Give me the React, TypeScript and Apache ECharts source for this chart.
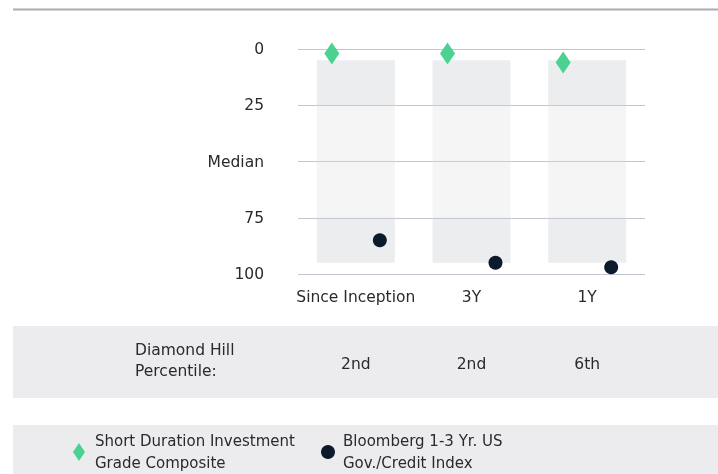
import React, { useEffect, useRef } from "react";
import * as echarts from "echarts";

const CATEGORIES = ["Since Inception", "3Y", "1Y"];
const COMPOSITE = [2, 2, 6];
const INDEX = [85, 95, 97];
const RANGE_LOW = [5, 5, 5];
const Q1 = [25, 25, 25];
const Q3 = [75, 75, 75];
const RANGE_HIGH = [95, 95, 95];
const PERCENTILES = ["2nd", "2nd", "6th"];
const Y_TICKS = [0, 25, 50, 75, 100];
const Y_TICK_LABELS = ["0", "25", "Median", "75", "100"];
const COMPOSITE_NAME = "Short Duration Investment\nGrade Composite";
const INDEX_NAME = "Bloomberg 1-3 Yr. US\nGov./Credit Index";
const TABLE_LABEL = "Diamond Hill\nPercentile:";

const FONT = "DejaVu Sans";
const FS = 15.5;
const FS_LEGEND = 15;
const TEXT = "#2a2a2a";
const GREEN = "#4bd291";
const NAVY = "#0c1b2b";
const PANEL = "#ececee";

export default function App() {
  const ref = useRef<HTMLDivElement>(null);
  useEffect(() => {
    if (!ref.current) return;
    const chart = echarts.init(ref.current, null, { renderer: "svg" });
    const diff = (a: number[], b: number[]) => a.map((v, i) => v - b[i]);
    const barCommon = {
      type: "bar" as const,
      stack: "range",
      barWidth: 78,
      silent: true,
      z: 1,
    };
    const option: any = {
      animation: false,
      textStyle: { fontFamily: FONT },
      grid: { left: 298, right: 73, top: 49, bottom: 200 },
      xAxis: {
        type: "category",
        data: CATEGORIES,
        axisLine: { show: false },
        axisTick: { show: false },
        axisLabel: { color: TEXT, fontSize: FS, fontFamily: FONT, margin: 15, interval: 0 },
      },
      yAxis: {
        type: "value",
        inverse: true,
        min: 0,
        max: 100,
        interval: 25,
        axisLine: { show: false },
        axisTick: { show: false },
        axisLabel: {
          color: TEXT,
          fontSize: FS,
          fontFamily: FONT,
          margin: 34,
          formatter: (v: number) => {
            const i = Y_TICKS.indexOf(v);
            return i >= 0 ? Y_TICK_LABELS[i] : "";
          },
        },
        splitLine: { lineStyle: { color: "#c2c6d0", width: 1 } },
      },
      legend: [
        {
          left: 73,
          top: 430,
          padding: 0,
          data: [{ name: COMPOSITE_NAME, icon: "path://M6,0 L12,9 L6,18 L0,9 Z" }],
          itemWidth: 22,
          itemHeight: 18,
          selectedMode: false,
          textStyle: { color: TEXT, fontSize: FS_LEGEND, fontFamily: FONT, lineHeight: 22 },
        },
        {
          left: 321,
          top: 430,
          padding: 0,
          data: [{ name: INDEX_NAME, icon: "circle" }],
          itemWidth: 20,
          itemHeight: 14,
          selectedMode: false,
          textStyle: { color: TEXT, fontSize: FS_LEGEND, fontFamily: FONT, lineHeight: 22 },
        },
      ],
      series: [
        { ...barCommon, name: "base", data: RANGE_LOW, itemStyle: { color: "rgba(0,0,0,0)" } },
        { ...barCommon, name: "upper tail", data: diff(Q1, RANGE_LOW), itemStyle: { color: "rgba(200,204,212,0.36)" } },
        { ...barCommon, name: "middle", data: diff(Q3, Q1), itemStyle: { color: "rgba(220,220,220,0.28)" } },
        { ...barCommon, name: "lower tail", data: diff(RANGE_HIGH, Q3), itemStyle: { color: "rgba(200,204,212,0.36)" } },
        {
          type: "scatter",
          name: COMPOSITE_NAME,
          data: COMPOSITE,
          symbol: "diamond",
          symbolSize: [15, 22],
          symbolOffset: [-24, 0],
          itemStyle: { color: GREEN, opacity: 1 },
          z: 5,
        },
        {
          type: "scatter",
          name: INDEX_NAME,
          data: INDEX,
          symbol: "circle",
          symbolSize: 14,
          symbolOffset: [24, 0],
          itemStyle: { color: NAVY, opacity: 1 },
          z: 5,
        },
      ],
    };
    chart.setOption(option);

    const xs = CATEGORIES.map((c) => chart.convertToPixel({ xAxisIndex: 0 }, c) as number);
    const graphic: any[] = [
      { type: "line", z: -1, shape: { x1: 13, y1: 9.5, x2: 718, y2: 9.5 }, style: { stroke: "#a8acb3", lineWidth: 2 } },
      { type: "rect", z: -10, shape: { x: 13, y: 326, width: 705, height: 72 }, style: { fill: PANEL } },
      { type: "rect", z: -10, shape: { x: 13, y: 425, width: 705, height: 60 }, style: { fill: PANEL } },
      {
        type: "text",
        x: 135,
        y: 360,
        style: { text: TABLE_LABEL, fill: TEXT, font: `${FS}px ${FONT}`, lineHeight: 21, verticalAlign: "middle", align: "left" },
      },
      ...PERCENTILES.map((p, i) => ({
        type: "text",
        x: xs[i],
        y: 364,
        style: { text: p, fill: TEXT, font: `${FS}px ${FONT}`, align: "center", verticalAlign: "middle" },
      })),
    ];
    chart.setOption({ graphic });
    return () => chart.dispose();
  }, []);
  return <div ref={ref} style={{ position: "fixed", left: 0, top: 0, width: 718, height: 474 }} />;
}
